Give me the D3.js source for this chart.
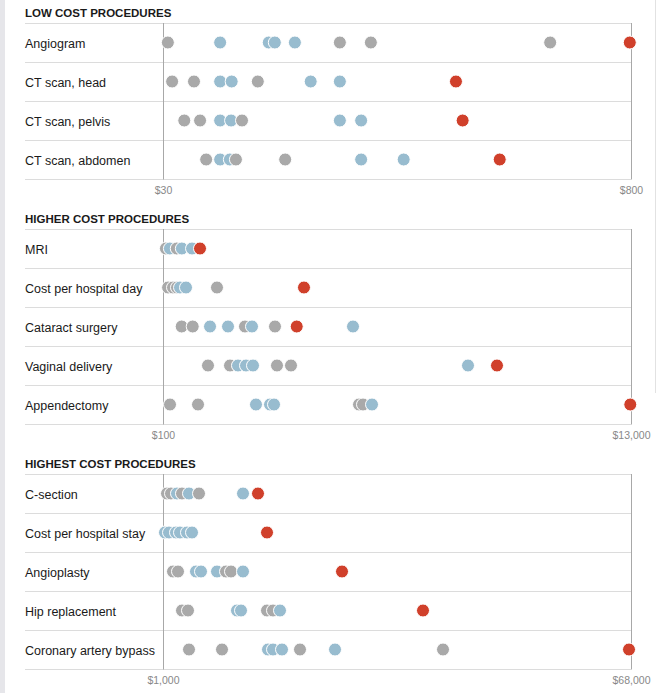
<!DOCTYPE html>
<html><head><meta charset="utf-8">
<script src="https://cdn.jsdelivr.net/npm/d3@7"></script>
<style>
html,body{margin:0;padding:0;background:#fff;}
svg{display:block;font-family:Arial,"Liberation Sans",sans-serif;}
</style></head>
<body>
<svg id="chart" width="672" height="693"></svg>
<script>
// ---- data ----
const panelTitles = ["LOW COST PROCEDURES", "HIGHER COST PROCEDURES", "HIGHEST COST PROCEDURES"];

const lowCategories = ["Angiogram", "CT scan, head", "CT scan, pelvis", "CT scan, abdomen"];
const lowDomain = [30, 800];
const lowTicks = ["$30", "$800"];
const lowValues = [
  [38, 124, 204, 214, 247, 321, 372, 667, 798],
  [45, 81, 124, 143, 186, 273, 321, 512],
  [65, 91, 124, 142, 160, 321, 356, 523],
  [101, 124, 140, 150, 231, 356, 426, 584]
];
const lowGroups = [
  ["g", "b", "b", "b", "b", "g", "g", "g", "us"],
  ["g", "g", "b", "b", "g", "b", "b", "us"],
  ["g", "g", "b", "b", "g", "b", "b", "us"],
  ["g", "b", "b", "g", "g", "b", "b", "us"]
];

const higherCategories = ["MRI", "Cost per hospital day", "Cataract surgery", "Vaginal delivery", "Appendectomy"];
const higherDomain = [100, 13000];
const higherTicks = ["$100", "$13,000"];
const higherValues = [
  [180, 290, 480, 620, 900, 1120],
  [240, 376, 486, 569, 734, 1588, 3986],
  [615, 919, 1396, 1892, 2360, 2553, 3187, 3786, 5337],
  [1340, 1947, 2167, 2388, 2581, 3242, 3628, 8507, 9306],
  [293, 1065, 2663, 3050, 3160, 5503, 5613, 5861, 12980]
];
const higherGroups = [
  ["g", "b", "g", "b", "b", "us"],
  ["g", "g", "g", "b", "b", "g", "us"],
  ["g", "g", "b", "b", "g", "b", "g", "us", "b"],
  ["g", "g", "b", "b", "b", "g", "g", "b", "us"],
  ["g", "g", "b", "b", "b", "g", "g", "b", "us"]
];

const highestCategories = ["C-section", "Cost per hospital stay", "Angioplasty", "Hip replacement", "Coronary artery bypass"];
const highestDomain = [1000, 68000];
const highestTicks = ["$1,000", "$68,000"];
const highestValues = [
  [1573, 2145, 3004, 3720, 4722, 6154, 12453, 14600],
  [1286, 1859, 2861, 3434, 4436, 5152, 15890],
  [2432, 3147, 5724, 6440, 8731, 10020, 10735, 12453, 26627],
  [3720, 4579, 11594, 12167, 15890, 16748, 17750, 38222],
  [4722, 9447, 16032, 16748, 18036, 20613, 25625, 41087, 67714]
];
const highestGroups = [
  ["g", "g", "b", "g", "b", "g", "b", "us"],
  ["b", "b", "b", "b", "b", "b", "us"],
  ["g", "g", "b", "b", "b", "g", "g", "b", "us"],
  ["g", "g", "b", "b", "g", "g", "b", "us"],
  ["g", "g", "b", "b", "b", "g", "b", "g", "us"]
];

const groupColors = { g: "#a9a9a9", b: "#98bccf", us: "#d0402b" };

// ---- drawing ----
const panels = [
  { title: panelTitles[0], cats: lowCategories, domain: lowDomain, ticks: lowTicks, values: lowValues, groups: lowGroups },
  { title: panelTitles[1], cats: higherCategories, domain: higherDomain, ticks: higherTicks, values: higherValues, groups: higherGroups },
  { title: panelTitles[2], cats: highestCategories, domain: highestDomain, ticks: highestTicks, values: highestValues, groups: highestGroups }
];

const svg = d3.select("#chart");
svg.append("rect").attr("x", 0).attr("y", 0).attr("width", 5).attr("height", 693).attr("fill", "#e6e6ea");
svg.append("line").attr("x1", 655.5).attr("x2", 655.5).attr("y1", 0).attr("y2", 393)
  .attr("stroke", "#e2e2e2").attr("stroke-width", 1);

const leftX = 25, plotL = 163, plotR = 631, rowH = 39;
let panelTop = 23;

panels.forEach(p => {
  const g = svg.append("g");
  const bottom = panelTop + p.cats.length * rowH;
  const x = d3.scaleLinear().domain(p.domain).range([plotL, plotR]);
  const y = d3.scaleBand().domain(p.cats).range([panelTop, bottom]);

  g.append("text").attr("x", leftX).attr("y", panelTop - 6)
    .attr("font-size", "11.5px").attr("font-weight", "bold").attr("fill", "#1a1a1a")
    .text(p.title);

  const lines = [panelTop].concat(p.cats.map(c => y(c) + y.bandwidth()));
  g.selectAll("line.sep").data(lines).enter().append("line")
    .attr("x1", leftX).attr("x2", plotR).attr("y1", d => Math.round(d) + 0.5).attr("y2", d => Math.round(d) + 0.5)
    .attr("stroke", "#dcdcdc").attr("stroke-width", 1);

  g.selectAll("line.ax").data(p.domain).enter().append("line")
    .attr("x1", d => Math.round(x(d)) + 0.5).attr("x2", d => Math.round(x(d)) + 0.5)
    .attr("y1", panelTop).attr("y2", bottom + 0.5)
    .attr("stroke", "#a8a8a8").attr("stroke-width", 1);

  g.selectAll("text.tick").data(p.domain).enter().append("text")
    .attr("x", d => x(d) + 0.5).attr("y", bottom + 15)
    .attr("text-anchor", "middle").attr("font-size", "10.5px").attr("fill", "#888")
    .text((d, i) => p.ticks[i]);

  g.selectAll("text.cat").data(p.cats).enter().append("text")
    .attr("x", leftX).attr("y", d => y(d) + y.bandwidth() / 2 + 5.5)
    .attr("font-size", "12.5px").attr("fill", "#1a1a1a")
    .text(d => d);

  p.cats.forEach((c, i) => {
    const pts = p.values[i].map((v, j) => ({ v, grp: p.groups[i][j] }));
    g.selectAll(null).data(pts).enter().append("circle")
      .attr("cx", d => x(d.v)).attr("cy", y(c) + y.bandwidth() / 2)
      .attr("r", 6.5)
      .attr("fill", d => groupColors[d.grp])
      .attr("stroke", "#fff").attr("stroke-width", 1);
  });

  panelTop = bottom + 50;
});
</script>
</body></html>
